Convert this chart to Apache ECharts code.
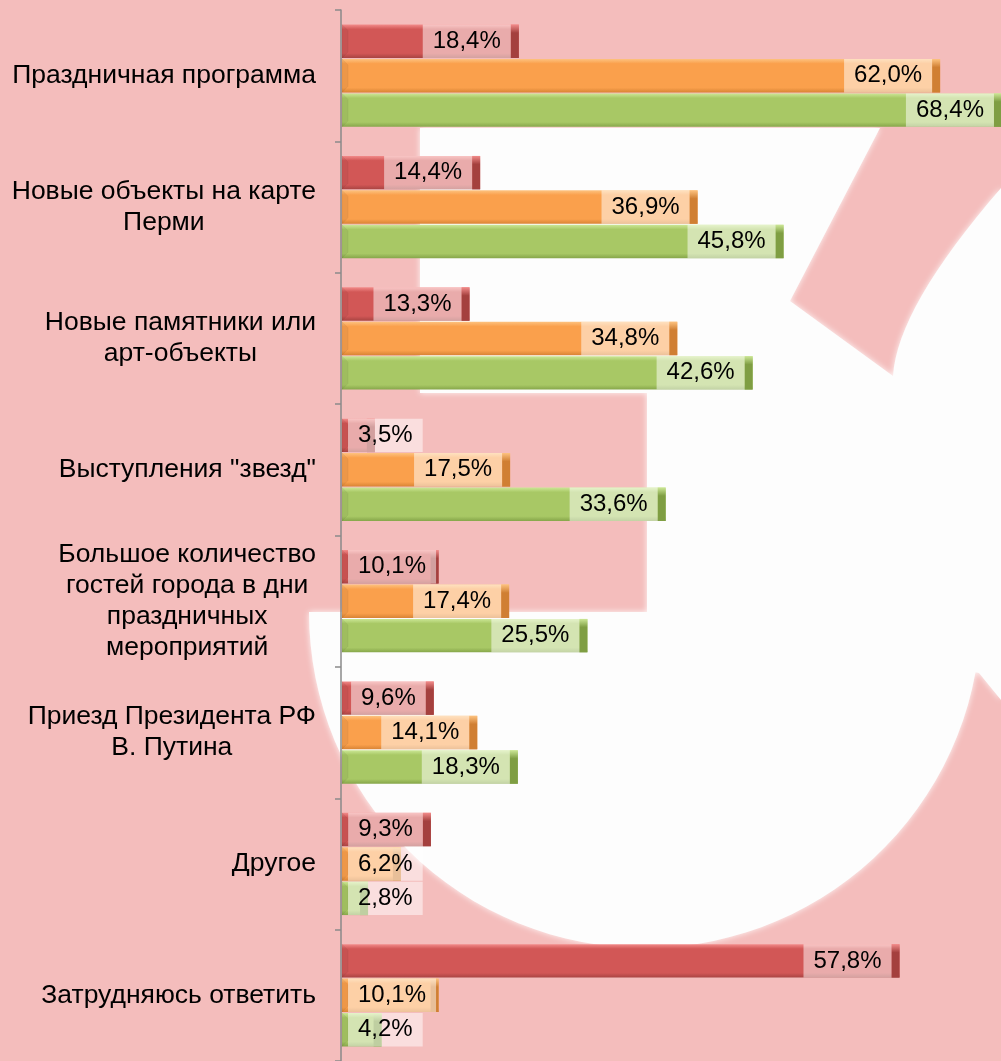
<!DOCTYPE html>
<html>
<head>
<meta charset="utf-8">
<script src="https://cdn.jsdelivr.net/npm/echarts@6/dist/echarts.min.js"></script>
<style>
  html, body { margin: 0; padding: 0; background: #F4BDBC; }
  #pic { width: 1001px; height: 1061px; }
</style>
</head>
<body>
<div id="pic"></div>
<script>
var categories = [
  'Праздничная программа',
  'Новые объекты на карте\nПерми',
  'Новые памятники или\nарт-объекты',
  'Выступления "звезд"',
  'Большое количество\nгостей города в дни\nпраздничных\nмероприятий',
  'Приезд Президента РФ\nВ. Путина',
  'Другое',
  'Затрудняюсь ответить'
];
var redValues    = [18.4, 14.4, 13.3, 3.5, 10.1, 9.6, 9.3, 57.8];
var orangeValues = [62.0, 36.9, 34.8, 17.5, 17.4, 14.1, 6.2, 10.1];
var greenValues  = [68.4, 45.8, 42.6, 33.6, 25.5, 18.3, 2.8, 4.2];

// face, highlight, shade, cap colours for each series
var palette = [
  { face: '#D25756', light: '#F28B8A', dark: '#A84442', cap: '#A4403E' },
  { face: '#FAA04C', light: '#FDC27F', dark: '#D98435', cap: '#D07F33' },
  { face: '#A8C865', light: '#CCE796', dark: '#86A64A', cap: '#7F9E43' }
];

var labelFont = '24px "Liberation Sans", Arial, sans-serif';
var measureCtx = document.createElement('canvas').getContext('2d');
measureCtx.font = labelFont;

function fmt(v) {
  return v.toFixed(1).replace('.', ',') + '%';
}

// white logo shape in the background
function logoPoints() {
  var pts = [[420, 128], [880, 128], [790, 301], [893, 376]];
  var i, t;
  // curve from the tip up to the right edge
  for (i = 1; i <= 16; i++) {
    t = i / 16;
    pts.push([
      (1 - t) * (1 - t) * 893 + 2 * t * (1 - t) * 897 + t * t * 1001,
      (1 - t) * (1 - t) * 376 + 2 * t * (1 - t) * 308 + t * t * 188
    ]);
  }
  pts.push([1001, 700], [979, 673]);
  // lower half circle
  var cx = 645, cy = 612, r = 336;
  var a0 = Math.atan2(673 - cy, 979 - cx);
  for (i = 0; i <= 60; i++) {
    var a = a0 + (Math.PI - a0) * i / 60;
    pts.push([cx + r * Math.cos(a), cy + r * Math.sin(a)]);
  }
  pts.push([647, 612], [647, 393], [420, 393]);
  return pts;
}

function makeRender(si) {
  var col = palette[si];
  return function (params, api) {
    var v = api.value(0);
    var ci = api.value(1);
    var p0 = api.coord([0, ci]);
    var p1 = api.coord([v, ci]);
    var band = api.size([0, 1])[1];
    var h = band * 0.262;
    var y0 = p0[1] + (si - 1.5) * h + 0.5;
    var y1 = y0 + h - 1;
    var x0 = p0[0] + 1;
    var x1 = p1[0];
    var len = x1 - x0;
    var cw = Math.min(8, len / 3);
    var bv = Math.min(6, len / 3);

    var text = fmt(v);
    var boxW = measureCtx.measureText(text).width + 20;
    var fits = (x1 - cw - boxW) >= x0 + 4;

    return {
      type: 'group',
      children: [
        {
          type: 'rect',
          shape: { x: x0, y: y0, width: len, height: y1 - y0 },
          style: {
            fill: new echarts.graphic.LinearGradient(0, 0, 0, 1, [
              { offset: 0, color: col.light },
              { offset: 0.14, color: col.face },
              { offset: 0.86, color: col.face },
              { offset: 1, color: col.dark }
            ])
          }
        },
        {
          type: 'polygon',
          shape: { points: [[x0, y0], [x0 + bv, y0 + bv], [x0 + bv, y1 - bv], [x0, y1]] },
          style: { fill: 'rgba(0,0,0,0.05)', stroke: 'rgba(0,0,0,0.08)', lineWidth: 0.5 }
        },
        {
          type: 'polygon',
          shape: { points: [[x1 - cw, y0], [x1, y0], [x1, y1], [x1 - cw, y1]] },
          style: {
            fill: new echarts.graphic.LinearGradient(0, 0, 0, 1, [
              { offset: 0, color: col.light },
              { offset: 0.25, color: col.cap },
              { offset: 1, color: col.cap }
            ])
          }
        },
        {
          type: 'text',
          z2: 10,
          style: {
            text: text,
            x: fits ? x1 - cw : x0 + 6,
            y: (y0 + y1) / 2,
            align: fits ? 'right' : 'left',
            verticalAlign: 'middle',
            font: labelFont,
            fill: '#000',
            lineHeight: 25,
            backgroundColor: 'rgba(255,255,255,0.5)',
            padding: [(h - 26) / 2, 10]
          }
        }
      ]
    };
  };
}

function seriesData(values) {
  return values.map(function (v, i) { return [v, i]; });
}

var chart = echarts.init(document.getElementById('pic'));
var option = {
  backgroundColor: '#F4BDBC',
  animation: false,
  graphic: [
    {
      type: 'polygon',
      z: -10,
      shape: { points: logoPoints() },
      style: { fill: '#FDFDFD', shadowBlur: 6, shadowColor: 'rgba(255,255,255,0.9)' }
    }
  ],
  grid: { left: 341, right: 0, top: 10, bottom: -4 },
  xAxis: {
    type: 'value',
    min: 0,
    max: 68.3,
    show: false
  },
  yAxis: {
    type: 'category',
    inverse: true,
    data: categories,
    axisLine: { show: true, lineStyle: { color: '#8A8A8A', width: 1.5 } },
    axisTick: { show: true, length: 6, lineStyle: { color: '#8A8A8A', width: 1.5 } },
    axisLabel: {
      margin: 25,
      align: 'right',
      color: '#000',
      fontSize: 26.5,
      fontFamily: '"Liberation Sans", Arial, sans-serif',
      lineHeight: 31,
      formatter: function (val) {
        return val.split('\n').map(function (s) { return '{c|' + s + '}'; }).join('\n');
      },
      rich: {
        c: {
          align: 'center',
          color: '#000',
          fontSize: 26.5,
          fontFamily: '"Liberation Sans", Arial, sans-serif',
          lineHeight: 31
        }
      }
    }
  },
  series: [
    { type: 'custom', renderItem: makeRender(0), encode: { x: 0, y: 1 }, data: seriesData(redValues) },
    { type: 'custom', renderItem: makeRender(1), encode: { x: 0, y: 1 }, data: seriesData(orangeValues) },
    { type: 'custom', renderItem: makeRender(2), encode: { x: 0, y: 1 }, data: seriesData(greenValues) }
  ]
};
chart.setOption(option);
</script>
</body>
</html>
